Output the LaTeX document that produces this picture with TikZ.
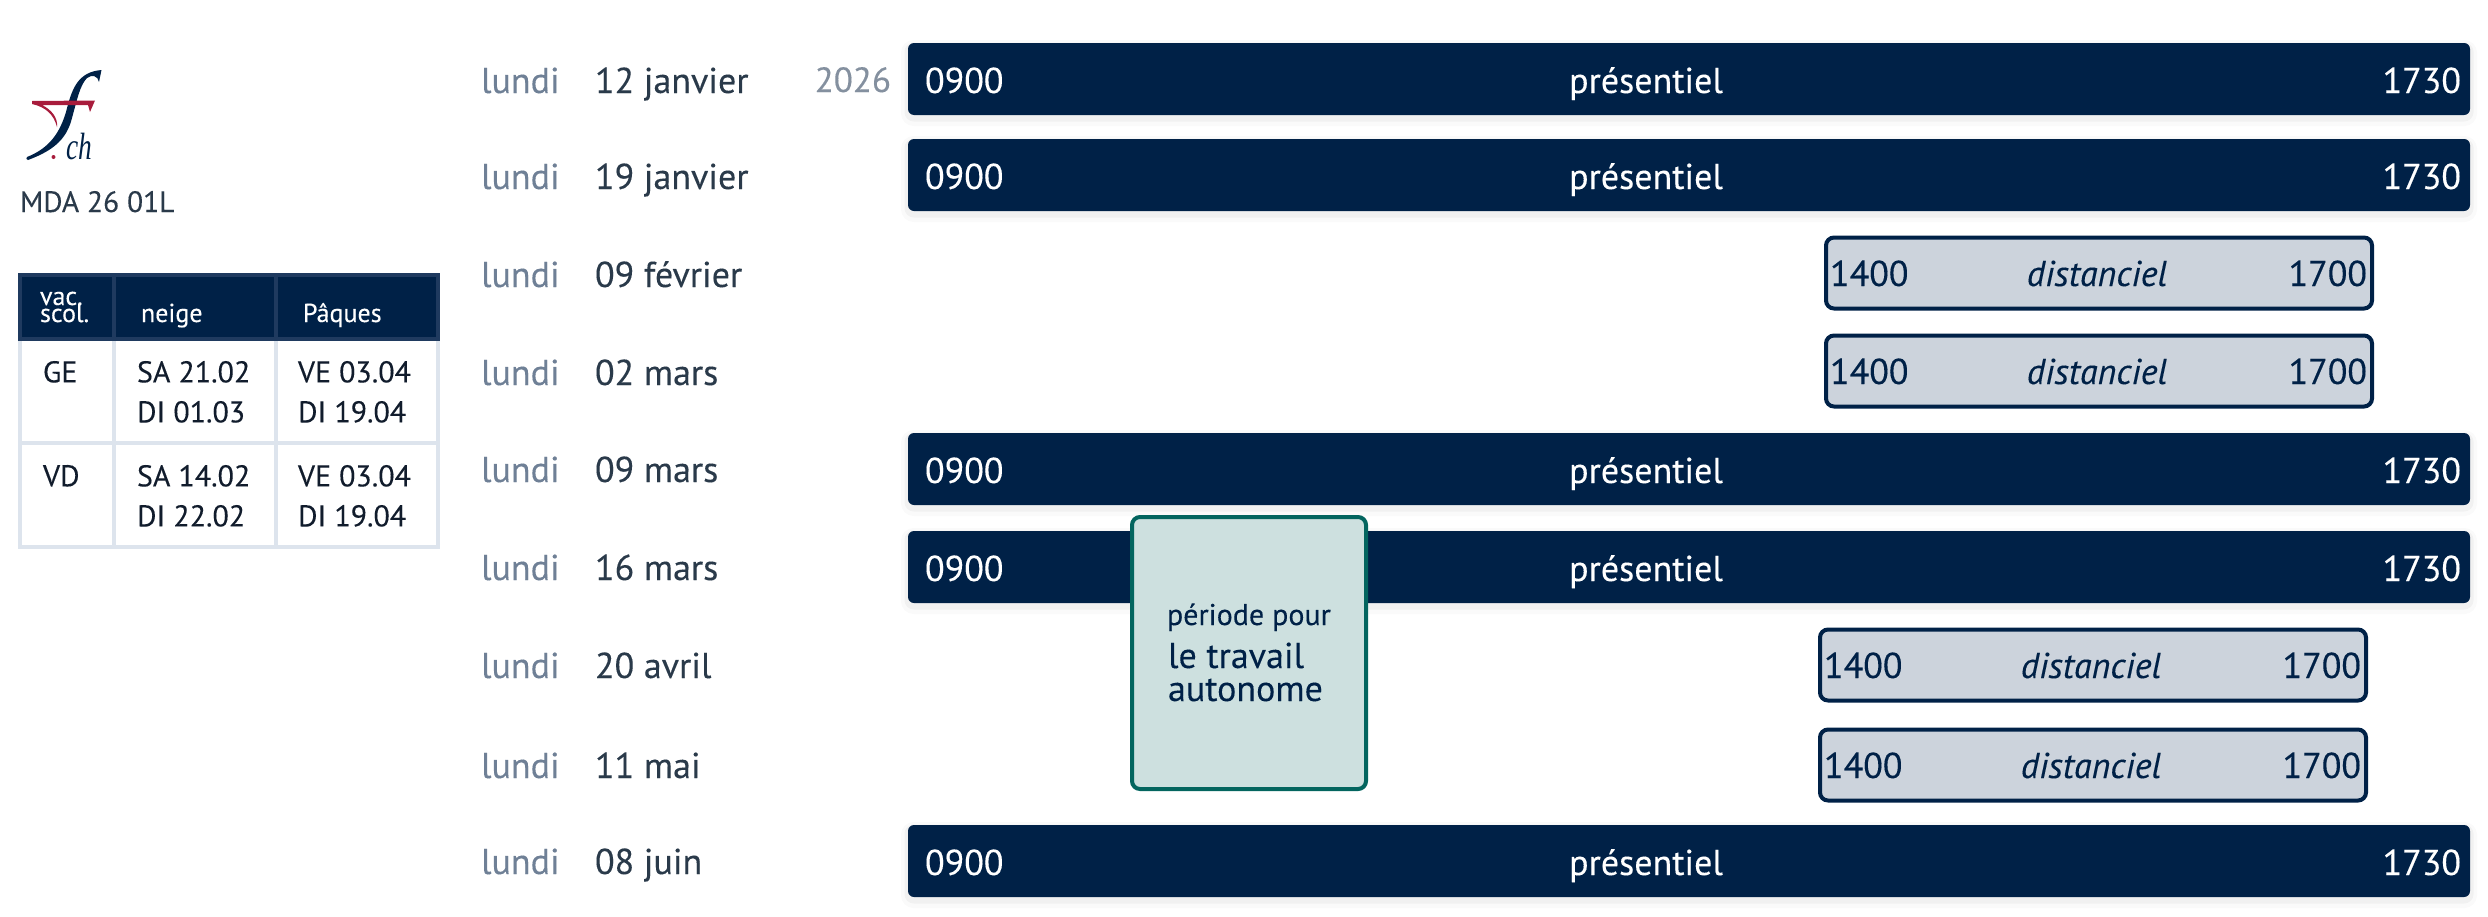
\documentclass[tikz,border=0pt]{standalone}
\usepackage{fontspec}
\setmainfont{PT Sans}[FakeBold=0.2]
\newfontfamily\logofont{Liberation Serif}
\usepackage{tikz}
\usetikzlibrary{calc, positioning}

\definecolor{navy}{HTML}{002147}
\definecolor{navyline}{HTML}{1F3A5F}
\definecolor{cellline}{HTML}{DDE4ED}
\definecolor{distfill}{HTML}{CCD3DC}
\definecolor{autofill}{HTML}{CDE0DF}
\definecolor{autoline}{HTML}{03655F}
\definecolor{logored}{HTML}{A81C3C}
\definecolor{daygrey}{HTML}{6F8096}
\definecolor{yeargrey}{HTML}{84909F}
\definecolor{dateink}{HTML}{2A3A4A}
\definecolor{cellink}{HTML}{111C2C}

\begin{document}
\begin{tikzpicture}
  [
    x = 1pt, y = -1pt,
    every node/.style = {inner sep = 0pt, outer sep = 0pt},
    dayname/.style = {anchor = base west, text = daygrey, font = \fontsize{36}{40}\selectfont},
    datename/.style = {anchor = base west, text = dateink, font = \fontsize{36}{40}\selectfont},
    softedge/.style = {preaction = {draw = black, draw opacity = #1, fill = none, line width = 14pt, transform canvas = {yshift = -4pt}}},
    bar/.style = {
      anchor = west, fill = navy, rounded corners = 6pt,
      minimum width = 1562pt, minimum height = 72pt,
      softedge = .02, preaction = {draw = black, draw opacity = .035, fill = none, line width = 7pt, transform canvas = {yshift = -3pt}}
    },
    bartext/.style = {text = white, font = \fontsize{36}{40}\selectfont},
    distbox/.style = {
      anchor = west, draw = navy, line width = 4pt, fill = distfill, rounded corners = 8pt,
      minimum width = 546pt, minimum height = 71pt
    },
    disttext/.style = {text = navy, font = \fontsize{36}{40}\selectfont},
    headcell/.style = {anchor = north west, draw = navyline, line width = 4pt, fill = navy},
    bodycell/.style = {anchor = north west, draw = cellline, line width = 4pt},
    headtext/.style = {anchor = base west, text = white, font = \fontsize{26}{17}\selectfont},
    celltext/.style = {anchor = north west, align = left, text = cellink, font = \fontsize{30}{40}\selectfont}
  ]
  \useasboundingbox (0,0) rectangle (2488,916);

  % logo
  \fill [navy] (101.5,70) -- (99,82) .. controls (98,76) and (92,74) .. (87,78)
    .. controls (80,85) and (77,100) .. (72,118) .. controls (67,138) and (55,150) .. (28,160)
    .. controls (26,160) and (26,158) .. (27,157) .. controls (50,148) and (60,132) .. (66,112)
    .. controls (72,88) and (78,72) .. (101.5,70) -- cycle;
  \fill [logored] (32,101) -- (95,100.5) -- (90,112) -- (88,105) -- (42,105)
    .. controls (52,110) and (58,118) .. (57,127) .. controls (54,115) and (46,107) .. (32,104) -- cycle;
  \fill [logored] (53.5,157) circle (2pt);
  \node (LogoCh) [anchor = base west, text = navy, xscale = .72, font = \logofont\itshape\fontsize{38}{40}\selectfont] at (66,159) {ch};
  \node (Code) [anchor = base west, text = dateink, font = \fontsize{29.5}{34}\selectfont] at (20,212) {MDA 26 01L};

  % vacation table
  \node (GeA) [bodycell, minimum width = 94pt, minimum height = 104pt] at (20,339) {};
  \node (GeB) [bodycell, minimum width = 162pt, minimum height = 104pt] at (114,339) {};
  \node (GeC) [bodycell, minimum width = 162pt, minimum height = 104pt] at (276,339) {};
  \node (VdA) [bodycell, minimum width = 94pt, minimum height = 104pt] at (20,443) {};
  \node (VdB) [bodycell, minimum width = 162pt, minimum height = 104pt] at (114,443) {};
  \node (VdC) [bodycell, minimum width = 162pt, minimum height = 104pt] at (276,443) {};
  \node (HeadA) [headcell, minimum width = 94pt, minimum height = 64pt] at (20,275) {};
  \node (HeadB) [headcell, minimum width = 162pt, minimum height = 64pt] at (114,275) {};
  \node (HeadC) [headcell, minimum width = 162pt, minimum height = 64pt] at (276,275) {};
  \node [headtext] at (40,305) {vac.};
  \node [headtext] at (40,322) {scol.};
  \node [headtext] at (141,322) {neige};
  \node [headtext] at (303,322) {Pâques};
  \node [celltext] at (43,361) {GE};
  \node [celltext] at (137,361) {SA 21.02\\DI 01.03};
  \node [celltext] at (298,361) {VE 03.04\\DI 19.04};
  \node [celltext] at (43,465) {VD};
  \node [celltext] at (137,465) {SA 14.02\\DI 22.02};
  \node [celltext] at (298,465) {VE 03.04\\DI 19.04};

  % dates
  \node (DayA) [dayname] at (481,93) {lundi};
  \node (DayB) [dayname] at (481,189) {lundi};
  \node (DayC) [dayname] at (481,287) {lundi};
  \node (DayD) [dayname] at (481,385) {lundi};
  \node (DayE) [dayname] at (481,482) {lundi};
  \node (DayF) [dayname] at (481,580) {lundi};
  \node (DayG) [dayname] at (481,678) {lundi};
  \node (DayH) [dayname] at (481,778) {lundi};
  \node (DayI) [dayname] at (481,874) {lundi};
  \node (DateA) [datename] at (595,93) {12 janvier};
  \node (DateB) [datename] at (595,189) {19 janvier};
  \node (DateC) [datename] at (595,287) {09 février};
  \node (DateD) [datename] at (595,385) {02 mars};
  \node (DateE) [datename] at (595,482) {09 mars};
  \node (DateF) [datename] at (595,580) {16 mars};
  \node (DateG) [datename] at (595,678) {20 avril};
  \node (DateH) [datename] at (595,778) {11 mai};
  \node (DateI) [datename] at (595,874) {08 juin};
  \node (Year) [anchor = base east, text = yeargrey, font = \fontsize{35}{40}\selectfont] at (891,92) {2026};

  % in-person days
  \node (BarA) [bar] at (908,79) {};
  \node (BarB) [bar] at (908,175) {};
  \node (BarE) [bar] at (908,469) {};
  \node (BarF) [bar] at (908,567) {};
  \node (BarI) [bar] at (908,861) {};
  \begin{scope}[nodes = {bartext}]
    \node [anchor = base west] at ($(BarA.west)+(17,14)$) {0900};
    \node [anchor = base] at ($(BarA.west)+(738,14)$) {présentiel};
    \node [anchor = base east] at ($(BarA.east)+(-9,14)$) {1730};
    \node [anchor = base west] at ($(BarB.west)+(17,14)$) {0900};
    \node [anchor = base] at ($(BarB.west)+(738,14)$) {présentiel};
    \node [anchor = base east] at ($(BarB.east)+(-9,14)$) {1730};
    \node [anchor = base west] at ($(BarE.west)+(17,14)$) {0900};
    \node [anchor = base] at ($(BarE.west)+(738,14)$) {présentiel};
    \node [anchor = base east] at ($(BarE.east)+(-9,14)$) {1730};
    \node [anchor = base west] at ($(BarF.west)+(17,14)$) {0900};
    \node [anchor = base] at ($(BarF.west)+(738,14)$) {présentiel};
    \node [anchor = base east] at ($(BarF.east)+(-9,14)$) {1730};
    \node [anchor = base west] at ($(BarI.west)+(17,14)$) {0900};
    \node [anchor = base] at ($(BarI.west)+(738,14)$) {présentiel};
    \node [anchor = base east] at ($(BarI.east)+(-9,14)$) {1730};
  \end{scope}

  % remote sessions
  \node (DistC) [distbox] at (1826,273) {};
  \node (DistD) [distbox] at (1826,371) {};
  \node (DistG) [distbox] at (1820,665) {};
  \node (DistH) [distbox] at (1820,765) {};
  \begin{scope}[nodes = {disttext}]
    \node [anchor = base west] at ($(DistC.west)+(4,13)$) {1400};
    \node [anchor = base, font = \fontsize{36}{40}\selectfont\itshape] at ($(DistC.west)+(271,13)$) {distanciel};
    \node [anchor = base east] at ($(DistC.east)+(-5,13)$) {1700};
    \node [anchor = base west] at ($(DistD.west)+(4,13)$) {1400};
    \node [anchor = base, font = \fontsize{36}{40}\selectfont\itshape] at ($(DistD.west)+(271,13)$) {distanciel};
    \node [anchor = base east] at ($(DistD.east)+(-5,13)$) {1700};
    \node [anchor = base west] at ($(DistG.west)+(4,13)$) {1400};
    \node [anchor = base, font = \fontsize{36}{40}\selectfont\itshape] at ($(DistG.west)+(271,13)$) {distanciel};
    \node [anchor = base east] at ($(DistG.east)+(-5,13)$) {1700};
    \node [anchor = base west] at ($(DistH.west)+(4,13)$) {1400};
    \node [anchor = base, font = \fontsize{36}{40}\selectfont\itshape] at ($(DistH.west)+(271,13)$) {distanciel};
    \node [anchor = base east] at ($(DistH.east)+(-5,13)$) {1700};
  \end{scope}

  % autonomous work block
  \node (Auto) [anchor = north west, draw = autoline, line width = 4pt, fill = autofill, rounded corners = 8pt,
    minimum width = 234pt, minimum height = 272pt] at (1132,517) {};
  \node (AutoA) [anchor = base west, text = navy, font = \fontsize{30}{34}\selectfont] at (1167,625) {période pour};
  \node (AutoB) [anchor = base west, text = navy, font = \fontsize{36}{33}\selectfont] at (1168,668) {le travail};
  \node (AutoC) [anchor = base west, text = navy, font = \fontsize{36}{33}\selectfont] at (1168,701) {autonome};
\end{tikzpicture}
\end{document}
